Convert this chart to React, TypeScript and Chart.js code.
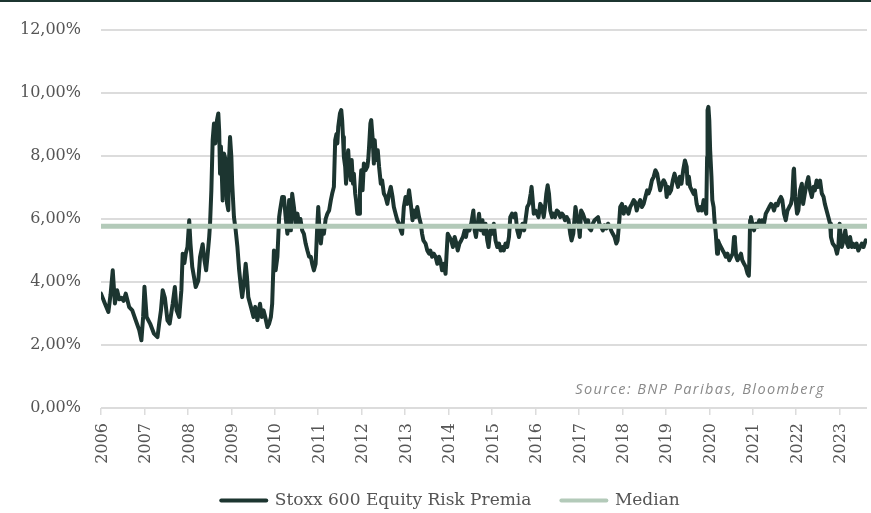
import React, { useEffect, useRef } from 'react';
import { Chart, registerables } from 'chart.js';

Chart.register(...registerables);

// ---- data ----
const erpYears: number[] = [
  2006.00, 2006.08, 2006.17, 2006.22, 2006.27, 2006.32, 2006.37, 2006.42, 2006.47, 2006.52, 2006.57, 2006.65, 2006.72, 2006.80, 2006.88, 2006.93, 2006.97,
  2007.00, 2007.05, 2007.13, 2007.22, 2007.30, 2007.34, 2007.38, 2007.42, 2007.47, 2007.53, 2007.58, 2007.65, 2007.70, 2007.74, 2007.80, 2007.85, 2007.88, 2007.92, 2007.95, 2007.99,
  2008.03, 2008.06, 2008.10, 2008.14, 2008.18, 2008.24, 2008.28, 2008.34, 2008.38, 2008.42, 2008.45, 2008.49, 2008.51, 2008.54, 2008.57, 2008.60, 2008.63, 2008.67, 2008.70, 2008.72, 2008.74, 2008.76, 2008.80, 2008.83, 2008.87, 2008.90, 2008.93, 2008.95, 2008.97,
  2009.00, 2009.02, 2009.06, 2009.10, 2009.14, 2009.18, 2009.22, 2009.25, 2009.29, 2009.33, 2009.36, 2009.39, 2009.45, 2009.51, 2009.55, 2009.60, 2009.66, 2009.70, 2009.74, 2009.78, 2009.83, 2009.87, 2009.91, 2009.94, 2009.98,
  2010.02, 2010.06, 2010.10, 2010.12, 2010.17, 2010.19, 2010.21, 2010.25, 2010.29, 2010.33, 2010.37, 2010.40, 2010.44, 2010.48, 2010.52, 2010.56, 2010.59, 2010.63, 2010.67, 2010.71, 2010.75, 2010.79, 2010.83, 2010.86, 2010.90, 2010.94, 2010.98,
  2011.00, 2011.03, 2011.06, 2011.10, 2011.13, 2011.17, 2011.21, 2011.25, 2011.29, 2011.32, 2011.36, 2011.39, 2011.42, 2011.44, 2011.46, 2011.50, 2011.53, 2011.55, 2011.57, 2011.59, 2011.62, 2011.64, 2011.67, 2011.69, 2011.71, 2011.75, 2011.77, 2011.80, 2011.82, 2011.85, 2011.87, 2011.90, 2011.94, 2011.96, 2011.99,
  2012.02, 2012.05, 2012.09, 2012.13, 2012.15, 2012.17, 2012.20, 2012.22, 2012.25, 2012.28, 2012.30, 2012.33, 2012.37, 2012.40, 2012.44, 2012.47, 2012.51, 2012.55, 2012.59, 2012.63, 2012.67, 2012.71, 2012.74, 2012.78, 2012.82, 2012.86, 2012.90, 2012.93, 2012.97,
  2013.01, 2013.05, 2013.09, 2013.13, 2013.17, 2013.20, 2013.24, 2013.28, 2013.32, 2013.36, 2013.39, 2013.42, 2013.47, 2013.51, 2013.55, 2013.58, 2013.62, 2013.66, 2013.70, 2013.74, 2013.78, 2013.81, 2013.85, 2013.89, 2013.93, 2013.95, 2013.98,
  2014.02, 2014.06, 2014.10, 2014.14, 2014.18, 2014.21, 2014.25, 2014.29, 2014.33, 2014.37, 2014.40, 2014.44, 2014.48, 2014.52, 2014.57, 2014.60, 2014.63, 2014.70, 2014.74, 2014.78, 2014.81, 2014.85, 2014.89, 2014.92, 2014.96,
  2015.00, 2015.04, 2015.08, 2015.12, 2015.16, 2015.20, 2015.24, 2015.27, 2015.31, 2015.35, 2015.39, 2015.42, 2015.46, 2015.50, 2015.54, 2015.58, 2015.62, 2015.66, 2015.70, 2015.74, 2015.77, 2015.81, 2015.85, 2015.89, 2015.91, 2015.93, 2015.96,
  2016.00, 2016.03, 2016.07, 2016.11, 2016.15, 2016.19, 2016.22, 2016.25, 2016.28, 2016.31, 2016.34, 2016.38, 2016.41, 2016.45, 2016.49, 2016.53, 2016.57, 2016.61, 2016.64, 2016.68, 2016.72, 2016.76, 2016.80, 2016.83, 2016.87, 2016.92, 2016.96, 2016.99,
  2017.02, 2017.05, 2017.09, 2017.13, 2017.17, 2017.21, 2017.24, 2017.28, 2017.32, 2017.36, 2017.40, 2017.44, 2017.47, 2017.51, 2017.55, 2017.59, 2017.63, 2017.67, 2017.71, 2017.74, 2017.78, 2017.82, 2017.86, 2017.89, 2017.93, 2017.95, 2017.99,
  2018.03, 2018.07, 2018.11, 2018.14, 2018.18, 2018.22, 2018.26, 2018.29, 2018.33, 2018.37, 2018.41, 2018.45, 2018.49, 2018.53, 2018.57, 2018.60, 2018.64, 2018.68, 2018.72, 2018.76, 2018.80, 2018.84, 2018.87, 2018.91, 2018.95, 2018.99,
  2019.02, 2019.05, 2019.08, 2019.12, 2019.16, 2019.20, 2019.24, 2019.28, 2019.32, 2019.36, 2019.40, 2019.44, 2019.48, 2019.50, 2019.53, 2019.56, 2019.60, 2019.64, 2019.67, 2019.71, 2019.75, 2019.79, 2019.83, 2019.87, 2019.91, 2019.93, 2019.95, 2019.96, 2019.98,
  2020.00, 2020.02, 2020.05, 2020.07, 2020.10, 2020.12, 2020.15, 2020.18, 2020.20, 2020.23, 2020.27, 2020.31, 2020.35, 2020.38, 2020.42, 2020.46, 2020.50, 2020.54, 2020.57, 2020.59, 2020.62, 2020.65, 2020.69, 2020.73, 2020.76, 2020.80, 2020.84, 2020.88, 2020.91, 2020.92, 2020.94, 2020.96, 2020.99,
  2021.03, 2021.07, 2021.11, 2021.15, 2021.19, 2021.22, 2021.26, 2021.30, 2021.34, 2021.38, 2021.42, 2021.45, 2021.49, 2021.53, 2021.57, 2021.61, 2021.65, 2021.68, 2021.72, 2021.76, 2021.80, 2021.84, 2021.88, 2021.91, 2021.94, 2021.95, 2021.98,
  2022.02, 2022.05, 2022.09, 2022.13, 2022.16, 2022.20, 2022.24, 2022.28, 2022.32, 2022.36, 2022.40, 2022.43, 2022.47, 2022.51, 2022.55, 2022.59, 2022.63, 2022.66, 2022.70, 2022.74, 2022.78, 2022.80, 2022.84, 2022.90, 2022.94, 2022.97,
  2023.00, 2023.02, 2023.05, 2023.09, 2023.13, 2023.17, 2023.20, 2023.24, 2023.28, 2023.31, 2023.35, 2023.39, 2023.43, 2023.47, 2023.51, 2023.55, 2023.60,
];

const erpValues: number[] = [
  3.63, 3.35, 3.05, 3.6, 4.37, 3.32, 3.74, 3.45, 3.5, 3.4, 3.63, 3.2, 3.1, 2.78, 2.47, 2.15, 2.9,
  3.85, 2.89, 2.68, 2.36, 2.25, 2.7, 3.1, 3.74, 3.5, 2.78, 2.68, 3.31, 3.84, 3.1, 2.89, 3.74, 4.9, 4.6, 4.9, 5.11,
  5.96, 5.2, 4.48, 4.16, 3.84, 4.05, 4.8, 5.2, 4.7, 4.37, 4.8, 5.43, 5.85, 6.91, 8.5, 9.03, 8.4, 9.14, 9.35, 8.8, 7.44, 8.3, 6.59, 8.08, 7.87, 6.5, 6.28, 7.98, 8.6,
  7.98, 7.12, 6.06, 5.64, 5.11, 4.37, 3.84, 3.52, 3.95, 4.58, 4.16, 3.52, 3.21, 2.89, 3.21, 2.79, 3.31, 2.89, 3.1, 2.89, 2.57, 2.68, 2.89, 3.31, 5.0,
  4.37, 4.8, 6.06, 6.27, 6.7, 6.5, 6.7, 6.06, 5.53, 6.6, 5.64, 6.8, 6.38, 5.85, 6.17, 5.85, 6.0, 5.64, 5.53, 5.22, 5.0, 4.8, 4.8, 4.58, 4.37, 4.58, 5.85,
  6.38, 5.64, 5.22, 5.75, 5.53, 6.0, 6.17, 6.27, 6.6, 6.8, 7.02, 8.5, 8.7, 8.4, 8.92, 9.35, 9.46, 9.14, 8.6, 7.97, 7.66, 7.12, 7.97, 8.18, 7.66, 7.23, 7.87, 7.12, 7.44, 6.81, 6.6, 6.17, 6.17, 6.91, 7.55,
  6.91, 7.76, 7.55, 7.66, 7.87, 8.29, 9.03, 9.14, 8.6, 7.76, 8.5, 7.87, 8.18, 7.66, 7.12, 7.23, 6.81, 6.7, 6.48, 6.81, 7.02, 6.7, 6.38, 6.17, 5.96, 5.85, 5.64, 5.53, 6.38,
  6.7, 6.48, 6.91, 6.48, 5.96, 6.27, 6.06, 6.38, 6.06, 5.85, 5.53, 5.32, 5.22, 5.0, 4.9, 5.0, 4.8, 4.9, 4.8, 4.58, 4.8, 4.69, 4.37, 4.58, 4.26, 4.8, 5.53,
  5.43, 5.32, 5.11, 5.43, 5.22, 5.0, 5.22, 5.32, 5.43, 5.64, 5.43, 5.75, 5.64, 5.85, 6.27, 5.64, 5.43, 6.17, 5.64, 5.96, 5.53, 5.85, 5.32, 5.11, 5.64,
  5.53, 5.85, 5.32, 5.11, 5.22, 5.0, 5.11, 5.0, 5.22, 5.11, 5.43, 6.06, 6.17, 6.06, 6.17, 5.64, 5.43, 5.64, 5.85, 5.64, 5.96, 6.38, 6.48, 6.81, 7.02, 6.7, 6.17,
  6.27, 6.17, 6.06, 6.48, 6.38, 6.06, 6.38, 6.81, 7.07, 6.81, 6.27, 6.06, 6.17, 6.06, 6.27, 6.22, 6.06, 6.17, 6.12, 5.96, 6.06, 5.96, 5.53, 5.32, 5.53, 6.38, 6.06, 5.85,
  5.43, 6.27, 6.17, 6.01, 5.85, 5.96, 5.7, 5.64, 5.85, 5.96, 6.01, 6.06, 5.85, 5.75, 5.64, 5.8, 5.7, 5.85, 5.75, 5.64, 5.53, 5.43, 5.22, 5.32, 5.96, 6.38, 6.48,
  6.17, 6.38, 6.27, 6.17, 6.38, 6.48, 6.6, 6.55, 6.27, 6.48, 6.6, 6.38, 6.48, 6.7, 6.91, 6.81, 6.96, 7.23, 7.34, 7.55, 7.44, 7.12, 6.91, 7.12, 7.23, 7.12,
  6.7, 7.02, 6.81, 6.91, 7.22, 7.44, 7.22, 7.02, 7.34, 7.12, 7.55, 7.86, 7.66, 7.12, 7.34, 7.02, 6.91, 6.8, 6.91, 6.48, 6.27, 6.38, 6.27, 6.6, 6.27, 6.17, 7.97, 9.45, 9.56,
  9.14, 8.18, 7.34, 6.6, 6.38, 5.96, 5.53, 4.9, 5.32, 5.22, 5.11, 5.0, 4.9, 4.8, 4.9, 4.69, 4.8, 4.9, 5.43, 5.32, 4.8, 4.69, 4.8, 4.9, 4.69, 4.58, 4.48, 4.27, 4.2, 4.58, 5.96, 6.06, 5.85,
  5.64, 5.85, 5.75, 5.96, 5.85, 5.96, 5.85, 6.17, 6.27, 6.38, 6.48, 6.43, 6.27, 6.48, 6.43, 6.6, 6.7, 6.6, 6.17, 5.96, 6.27, 6.38, 6.48, 6.7, 7.55, 7.6, 6.7,
  6.17, 6.27, 6.91, 7.12, 6.48, 6.81, 7.12, 7.33, 6.91, 6.7, 7.02, 6.91, 7.22, 7.02, 7.22, 6.81, 6.7, 6.48, 6.27, 6.06, 5.85, 5.43, 5.22, 5.11, 4.9, 5.11,
  5.85, 5.53, 5.11, 5.32, 5.64, 5.22, 5.11, 5.43, 5.11, 5.22, 5.11, 5.22, 5.0, 5.11, 5.22, 5.11, 5.32,
];

const yearTicks: number[] = [
  2006, 2007, 2008, 2009, 2010, 2011, 2012, 2013, 2014, 2015, 2016, 2017, 2018, 2019, 2020, 2021, 2022, 2023,
];

const medianValue = 5.77;
const axisStartYear = 2006;
const axisEndYear = 2023.63;
const yMin = 0;
const yMax = 12;
const yStep = 2;

const seriesLabel = 'Stoxx 600 Equity Risk Premia';
const medianLabel = 'Median';
const sourceText = 'Source: BNP Paribas, Bloomberg';

const DARK = '#1c3530';
const SAGE = '#b3cab9';
const GRID = '#dcdcdc';
const TEXT = '#555555';
const SERIF = '"DejaVu Serif", serif';

const sourcePlugin = {
  id: 'sourceNote',
  afterDraw(chart: any) {
    const { ctx, chartArea } = chart;
    ctx.save();
    ctx.font = 'italic 14.5px "Open Sans", sans-serif';
    ctx.fillStyle = '#8a8a8a';
    ctx.textAlign = 'right';
    ctx.textBaseline = 'middle';
    try { (ctx as any).letterSpacing = '1.4px'; } catch (e) {}
    ctx.fillText(sourceText, chartArea.right - 42, chartArea.bottom - 18);
    ctx.restore();
  },
};

// year labels: vertical text hung under each tick of the x scale
const yearLabelPlugin = {
  id: 'yearLabels',
  afterDraw(chart: any) {
    const { ctx, chartArea } = chart;
    const xScale = chart.scales.x;
    ctx.save();
    ctx.font = '16px "DejaVu Serif", serif';
    ctx.fillStyle = TEXT;
    ctx.textAlign = 'right';
    ctx.textBaseline = 'middle';
    xScale.ticks.forEach((t: any) => {
      const px = xScale.getPixelForValue(t.value);
      ctx.save();
      ctx.translate(px + 1.5, chartArea.bottom + 15);
      ctx.rotate(-Math.PI / 2);
      ctx.fillText(String(t.value), 0, 0);
      ctx.restore();
    });
    ctx.restore();
  },
};

// legend keeps its normal slot; nudge it to where the reference puts it
const legendPlacePlugin = {
  id: 'legendPlace',
  afterLayout(chart: any) {
    const lg = chart.legend;
    if (!lg) return;
    const dy = 462 - lg.top;
    const dx = 17;
    lg.top += dy;
    lg.bottom += dy;
    lg.left += dx;
    lg.right += dx;
  },
};

export default function App() {
  const canvasRef = useRef<HTMLCanvasElement | null>(null);

  useEffect(() => {
    if (!canvasRef.current) return;
    const seriesPoints = erpYears.map((x, i) => ({ x, y: erpValues[i] }));
    const medianPoints = [
      { x: axisStartYear, y: medianValue },
      { x: axisEndYear, y: medianValue },
    ];

    const chart = new Chart(canvasRef.current, {
      type: 'line',
      data: {
        datasets: [
          {
            label: seriesLabel,
            data: seriesPoints,
            borderColor: DARK,
            backgroundColor: DARK,
            borderWidth: 4,
            pointRadius: 0,
            tension: 0,
            borderJoinStyle: 'round',
            borderCapStyle: 'round',
            order: 2,
          },
          {
            label: medianLabel,
            data: medianPoints,
            borderColor: SAGE,
            backgroundColor: SAGE,
            borderWidth: 5,
            pointRadius: 0,
            order: 1,
          },
        ],
      },
      options: {
        animation: false,
        responsive: true,
        maintainAspectRatio: false,
        layout: { padding: { top: 30, right: 4, left: 0, bottom: 41 } },
        plugins: {
          tooltip: { enabled: false },
          legend: {
            position: 'bottom',
            labels: {
              font: { family: SERIF, size: 17 },
              color: TEXT,
              usePointStyle: true,
              pointStyleWidth: 45,
              padding: 30,
              generateLabels: (c: any) =>
                c.data.datasets.map((ds: any, i: number) => ({
                  text: ds.label,
                  fillStyle: ds.borderColor,
                  strokeStyle: ds.borderColor,
                  lineWidth: 4,
                  lineCap: 'round',
                  pointStyle: 'line',
                  hidden: false,
                  datasetIndex: i,
                  fontColor: TEXT,
                })),
            },
          },
        },
        scales: {
          x: {
            type: 'linear',
            min: axisStartYear,
            max: axisEndYear,
            afterBuildTicks: (scale: any) => {
              scale.ticks = yearTicks.map((v) => ({ value: v }));
            },
            ticks: {
              display: false,
              stepSize: 1,
              autoSkip: false,
            },
            grid: {
              drawOnChartArea: false,
              drawTicks: true,
              tickLength: 7,
              color: GRID,
              lineWidth: 1.5,
            },
            border: { display: false },
          },
          y: {
            min: yMin,
            max: yMax,
            afterFit: (scale: any) => {
              scale.width = 101;
            },
            ticks: {
              stepSize: yStep,
              padding: 20,
              font: { family: SERIF, size: 16 },
              color: TEXT,
              callback: (v: any) => Number(v).toFixed(2).replace('.', ',') + '%',
            },
            grid: { color: GRID, lineWidth: 2, drawTicks: false },
            border: { display: false },
          },
        },
      },
      plugins: [sourcePlugin, yearLabelPlugin, legendPlacePlugin],
    } as any);

    return () => chart.destroy();
  }, []);

  return (
    <div style={{ position: 'absolute', left: 0, top: 0, width: 871, height: 513, background: '#fff' }}>
      <div style={{ position: 'absolute', left: 0, top: 0, width: 871, height: 2, background: DARK }} />
      <div style={{ position: 'absolute', left: 0, top: 0, width: 871, height: 513 }}>
        <canvas ref={canvasRef} />
      </div>
    </div>
  );
}
